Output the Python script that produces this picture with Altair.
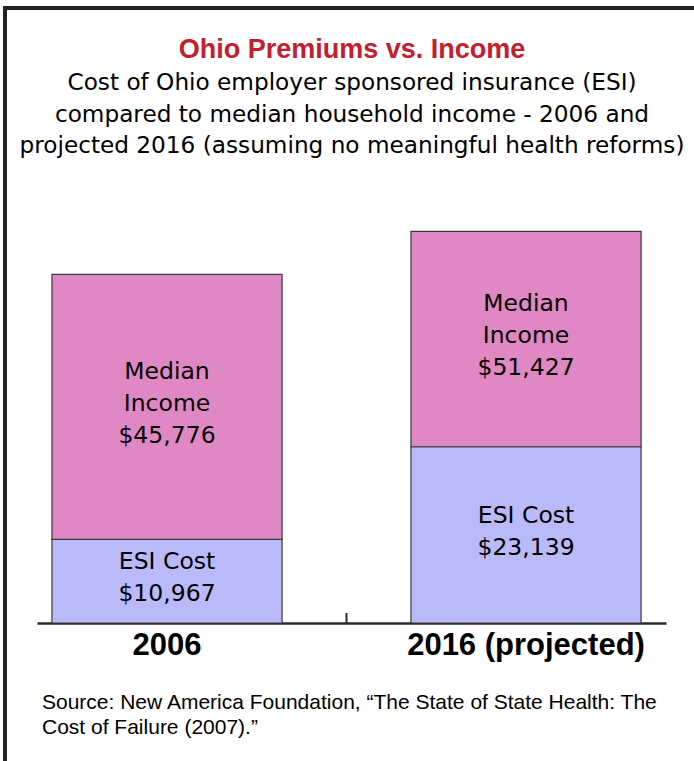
import altair as alt
import pandas as pd

# ---- data ----
years = ["2006", "2016 (projected)"]
esi_cost = [10967, 23139]
median_income = [45776, 51427]

title_text = "Ohio Premiums vs. Income"
subtitle_lines = [
    "Cost of Ohio employer sponsored insurance (ESI)",
    "compared to median household income - 2006 and",
    "projected 2016 (assuming no meaningful health reforms)",
]
source_lines = [
    "Source: New America Foundation, \u201cThe State of State Health: The",
    "Cost of Failure (2007).\u201d",
]

rows = []
for yr, e, m in zip(years, esi_cost, median_income):
    rows.append({"year": yr, "segment": "ESI Cost", "lo": 0, "hi": e,
                 "label": f"ESI Cost\n${e:,}"})
    rows.append({"year": yr, "segment": "Median Income", "lo": e, "hi": m,
                 "label": f"Median\nIncome\n${m:,}"})
df = pd.DataFrame(rows)

HEAD = "Liberation Sans"
BODY = "DejaVu Sans"
W, H = 629, 457

x_enc = alt.X(
    "year:N", sort=years,
    scale=alt.Scale(paddingInner=0.359, paddingOuter=0.0555, align=0.375),
    axis=alt.Axis(title=None, labelAngle=0, domainColor="#2b2b2b", domainWidth=2.5,
                  ticks=False, tickSize=0, labelFont=HEAD, labelFontWeight="bold",
                  labelFontSize=31, labelColor="black", labelPadding=7, labelLimit=0),
)
y_enc = alt.Y("lo:Q", scale=alt.Scale(domain=[0, 60000], nice=False, zero=True), axis=None)

bars = alt.Chart(df).mark_bar(stroke="#3a3a3a", strokeWidth=1.2).encode(
    x=x_enc, y=y_enc, y2="hi:Q",
    color=alt.Color("segment:N",
                    scale=alt.Scale(domain=["ESI Cost", "Median Income"],
                                    range=["#babafb", "#e088c3"]),
                    legend=None),
)

base_lbl = alt.Chart(df).transform_calculate(mid="(datum.lo + datum.hi) / 2")
income_labels = base_lbl.transform_filter(alt.datum.segment == "Median Income").mark_text(
    font=BODY, fontSize=23.5, lineBreak="\n", lineHeight=32, baseline="middle",
    align="center", color="black", dy=-35,
).encode(x=alt.X("year:N", sort=years), y=alt.Y("mid:Q"), text="label:N")
esi_labels = base_lbl.transform_filter(alt.datum.segment == "ESI Cost").mark_text(
    font=BODY, fontSize=23.5, lineBreak="\n", lineHeight=32, baseline="middle",
    align="center", color="black", dy=-19,
).encode(x=alt.X("year:N", sort=years), y=alt.Y("mid:Q"), text="label:N")

one = pd.DataFrame({"k": [0]})
mid_tick = alt.Chart(one).mark_rule(color="#2b2b2b", strokeWidth=2).encode(
    x=alt.value(309.5), y=alt.value(447), y2=alt.value(457))
frame_top = alt.Chart(one).mark_rule(color="#222222", strokeWidth=4).encode(
    x=alt.value(-34), x2=alt.value(657), y=alt.value(-158))
frame_left = alt.Chart(one).mark_rule(color="#222222", strokeWidth=4).encode(
    x=alt.value(-32), y=alt.value(-160), y2=alt.value(595))

title = alt.Chart(pd.DataFrame({"t": [title_text]})).mark_text(
    font=HEAD, fontSize=27, fontWeight="bold", color="#c1202f",
    align="center", baseline="alphabetic",
).encode(x=alt.value(315), y=alt.value(-108), text="t:N")

subtitle = alt.Chart(pd.DataFrame({"t": ["\n".join(subtitle_lines)]})).mark_text(
    font=BODY, fontSize=23.2, lineHeight=31.5, lineBreak="\n", color="black",
    align="center", baseline="alphabetic",
).encode(x=alt.value(315), y=alt.value(-76), text="t:N")

source = alt.Chart(pd.DataFrame({"t": ["\n".join(source_lines)]})).mark_text(
    font=HEAD, fontSize=21, lineHeight=25, lineBreak="\n",
    align="left", baseline="alphabetic", color="black",
).encode(x=alt.value(5), y=alt.value(543), text="t:N")

chart = alt.layer(
    bars, income_labels, esi_labels, mid_tick, frame_top, frame_left,
    title, subtitle, source,
).properties(
    width=W, height=H,
    autosize=alt.AutoSizeParams(type="none"),
    padding={"left": 37, "top": 166, "right": 28, "bottom": 138},
).configure(background="white").configure_view(stroke=None)

chart.save("out.html", embed_options={"renderer": "svg", "actions": False})
